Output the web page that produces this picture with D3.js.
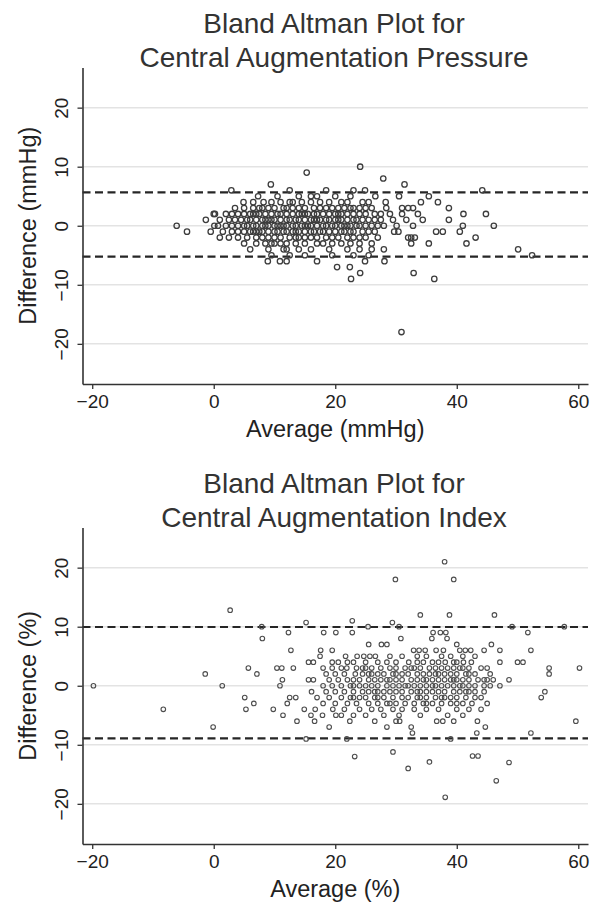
<!DOCTYPE html>
<html>
<head>
<meta charset="utf-8">
<script src="https://cdn.jsdelivr.net/npm/d3@7"></script>
<style>
body { margin: 0; background: #fff; }
svg { display: block; }
</style>
</head>
<body>
<div id="chart"></div>
<script>
// axis ticks shared by both panels
const xTicks = [-20, 0, 20, 40, 60];
const yTicks = [-20, -10, 0, 10, 20];

const titles = [
  ["Bland Altman Plot for", "Central Augmentation Pressure"],
  ["Bland Altman Plot for", "Central Augmentation Index"]
];
const xLabels = ["Average (mmHg)", "Average (%)"];
const yLabels = ["Difference (mmHg)", "Difference (%)"];

// limits of agreement (dashed lines)
const capLimits = [5.65, -5.24];
const caiLimits = [9.95, -8.9];

// central augmentation pressure: [difference, [averages...]]
const capRows = [
  [10, [24.1]],
  [9, [15.3]],
  [8, [27.9]],
  [7, [9.4, 31.4]],
  [6, [2.9, 12.5, 18.5, 23.0, 24.9, 44.2]],
  [5, [7.3, 10.5, 14, 16, 17, 20, 22.5, 26.6, 30.5, 35.4]],
  [4, [4.9, 6.5, 8.2, 9.5, 11, 12.5, 13, 14.5, 16, 17.5, 19, 21, 22, 24.5, 25.5, 28.3, 34.1, 36.9]],
  [3, [3.5, 5, 6.5, 7.5, 8, 9, 10, 11.5, 12, 13, 14, 15, 16.5, 17.5, 18.5, 19.5, 20.5, 21.5, 22.5, 23, 24, 25, 26, 28.4, 31, 32, 32.8, 38.7]],
  [2, [0, 0.2, 2, 3, 4, 5, 6, 6.5, 7, 7.5, 8.5, 9.5, 10.5, 11, 12, 13, 14, 14.5, 15, 15.5, 16.5, 17, 18, 19, 20, 20.5, 21, 22, 23, 24, 25, 26.5, 27.5, 29, 31, 33.6, 41.1, 44.8]],
  [1, [-1.3, 1, 2.5, 3.5, 4.5, 5.5, 6, 7, 8, 8.5, 9, 9.5, 10, 11, 12, 12.5, 13.5, 14, 15, 16, 16.5, 17, 17.5, 18.5, 19, 20, 20.5, 21, 22, 23, 23.5, 24.5, 25.5, 26.5, 27.5, 29.5, 31.7, 34.4, 38.7]],
  [0, [-6.1, 0.1, 0.7, 2, 3, 4, 5, 5.5, 6.5, 7, 8, 8.5, 9, 10, 10.5, 11, 11.5, 12, 13, 13.5, 14.5, 15, 15.5, 16, 17, 18, 18.5, 19.5, 20, 21, 21.5, 22, 22.5, 23.5, 24, 25, 26, 27, 28, 30.1, 32.8, 41, 46.1]],
  [-1, [-4.4, -0.5, 1.5, 3, 4, 5, 6, 6.5, 7, 7.5, 8, 9, 10, 10.5, 11.5, 12, 13, 13.5, 14, 15, 16, 16.5, 17.5, 18, 19, 20, 21, 21.5, 22.5, 23, 24.5, 25.5, 26.5, 29.7, 30.4, 36.6, 37.7, 40.5]],
  [-2, [1, 2.5, 4, 5.5, 7, 8, 9, 10, 11, 12.5, 13.5, 14, 15, 16, 17, 18.5, 19.5, 20.5, 22, 23, 24, 25, 27, 32, 32.5, 33.1, 43.1]],
  [-3, [5, 7, 8.5, 9.5, 10, 11, 12, 13.5, 15, 17, 18, 19.5, 21, 22.5, 24, 26, 32.5, 35.4, 41.6]],
  [-4, [6, 9, 11.5, 12, 14, 16, 19, 22, 24, 26, 28, 50.1]],
  [-5, [9.5, 12.5, 15, 19.5, 23, 25.5, 52.4]],
  [-6, [8.9, 10.9, 12, 17, 24.9, 28.1]],
  [-7, [20.3, 22.4]],
  [-8, [24.1, 32.9]],
  [-9, [22.6, 36.3]],
  [-18, [30.9]]
];

// central augmentation index: [difference, [averages...]]
const caiRows = [
  [21, [38]],
  [18, [29.9, 39.5]],
  [12.8, [2.7]],
  [12, [34, 38.8, 46.2]],
  [11, [22.8]],
  [10.7, [15.2, 29.4]],
  [10, [7.9, 25.4, 30.5, 49.1, 57.7]],
  [9, [12.3, 18.1, 20.1, 22.8, 36.1, 37.3, 38.2, 51.7]],
  [8, [8, 30.8, 35.9, 38.4]],
  [7, [25.5, 27.6, 28.5, 40, 45.7]],
  [6, [12.7, 17.6, 19.5, 32.9, 33.8, 34.8, 36.6, 37.8, 40.5, 41.4, 42.3, 44.5, 47.1, 52.2]],
  [5, [17.5, 21.7, 23.6, 24.7, 25.7, 26.6, 29, 31, 33.5, 35, 37.5, 39, 41, 43]],
  [4, [15.6, 16.4, 19.5, 20.5, 22, 23, 25, 27, 28.5, 30, 32.1, 33.5, 34.5, 36, 37, 38.1, 39.5, 40, 41.1, 42.4, 47.1, 50, 50.9]],
  [3, [5.7, 10.4, 11.2, 13.1, 18, 19.5, 21, 21.9, 23.5, 24.5, 25, 26, 27.5, 29, 30, 31.5, 32.5, 33, 34, 35.5, 36.5, 37.5, 38.5, 39.5, 40.5, 41, 42, 44, 45, 55.2, 60.2]],
  [2, [-1.4, 7.1, 18.5, 20, 21.5, 23.3, 24.5, 25.5, 26, 27, 28, 29.5, 30, 31, 32, 33.5, 34.5, 35.5, 36.5, 37, 38, 39, 40, 41.5, 42, 43, 45.5, 55.2]],
  [1, [11.3, 15.6, 16.4, 19, 20.5, 22, 23, 24, 25.5, 26.5, 27.5, 28.5, 29, 30, 31, 32.5, 33.5, 34.5, 35, 36, 37, 38, 39, 39.5, 40, 41, 42, 43.5, 44.5, 45, 46, 48.6]],
  [0, [-19.8, 1.4, 10.9, 18, 19.5, 21, 22.5, 23, 24, 25, 26, 27, 28.5, 29.5, 30.5, 31.5, 32, 33, 34, 35, 36, 36.5, 37.5, 38.5, 39.5, 40.5, 41, 42, 43, 44.5, 45.5, 47.1]],
  [-1, [16.1, 18.5, 20, 21.5, 23, 24.5, 25.5, 26.5, 27, 28, 29, 30, 31, 32.5, 33.5, 34, 35, 36, 37, 38, 39.5, 40.5, 41.5, 42, 43, 44.5, 54.5]],
  [-2, [5.1, 12.5, 13.5, 17, 19, 21, 22.5, 23, 24, 25, 26.5, 27, 28, 29.5, 31, 32, 33.5, 34, 35, 36.5, 37.5, 38, 39, 40, 41.5, 43, 44, 53.9]],
  [-3, [6.6, 12.1, 18, 20, 22, 23.5, 25.5, 27, 28.5, 29, 30, 31.5, 33, 34.5, 35, 36, 37.5, 39, 40, 41, 42.5, 45]],
  [-4, [-8.3, 5.3, 9.8, 14.9, 16.7, 19.6, 21.5, 24, 26, 27.5, 29.5, 31, 33, 35, 37, 40, 42, 44]],
  [-5, [11.4, 16, 17.9, 20.1, 21, 23, 25, 28, 30.5, 34, 38.5, 41]],
  [-6, [13.7, 16.6, 22.4, 26.5, 30, 30.6, 36.7, 37.7, 39.5, 43.4, 59.6]],
  [-7, [-0.1, 19, 28.5, 32.5, 44.7]],
  [-8, [32.7, 43.3, 52.2]],
  [-9, [15.2, 21.9, 39]],
  [-11.2, [29.5]],
  [-11.9, [42.6, 43.5]],
  [-12, [23.2]],
  [-12.9, [35.5]],
  [-13, [48.6]],
  [-14, [32]],
  [-16.1, [46.5]],
  [-18.9, [38.1]]
];

const width = 601;
const height = 902;
const plot = {left: 82.5, right: 588, top: 67.5, bottom: 384};
const panelStep = 460;
const font = "'Liberation Sans', Arial, Helvetica, sans-serif";

const svg = d3.select('#chart')
  .append('svg')
  .attr('width', width)
  .attr('height', height)
  .attr('viewBox', [0, 0, width, height]);

svg.append('rect')
  .attr('width', width)
  .attr('height', height)
  .attr('fill', 'white');

function toPoints(rows) {
  const pts = [];
  rows.forEach(r => r[1].forEach(a => pts.push({avg: a, diff: r[0]})));
  return pts;
}

function drawPanel(i, rows, limits, r, sw, col) {
  const oy = i * panelStep;
  const g = svg.append('g');

  const x = d3.scaleLinear()
    .domain([-21.6, 61.6])
    .range([plot.left, plot.right]);

  const y = d3.scaleLinear()
    .domain([-26.8, 26.8])
    .range([plot.bottom + oy, plot.top + oy]);

  // grid lines
  g.append('g')
    .selectAll('line')
    .data(yTicks)
    .join('line')
    .attr('x1', plot.left)
    .attr('x2', plot.right)
    .attr('y1', d => y(d))
    .attr('y2', d => y(d))
    .attr('stroke', '#e3e3e3')
    .attr('stroke-width', 1.5);

  // limits of agreement
  g.append('g')
    .selectAll('line')
    .data(limits)
    .join('line')
    .attr('x1', plot.left)
    .attr('x2', plot.right)
    .attr('y1', d => y(d))
    .attr('y2', d => y(d))
    .attr('stroke', '#262626')
    .attr('stroke-width', 2.2)
    .attr('stroke-dasharray', '8,4.5');

  // points
  g.append('g')
    .selectAll('circle')
    .data(toPoints(rows))
    .join('circle')
    .attr('cx', d => x(d.avg))
    .attr('cy', d => y(d.diff))
    .attr('r', r)
    .attr('fill', 'none')
    .attr('stroke', col)
    .attr('stroke-width', sw);

  // x axis
  const xa = g.append('g')
    .attr('transform', `translate(0,${plot.bottom + oy})`)
    .call(d3.axisBottom(x).tickValues(xTicks).tickSize(5).tickSizeOuter(0).tickPadding(6));

  // y axis
  const ya = g.append('g')
    .attr('transform', `translate(${plot.left},0)`)
    .call(d3.axisLeft(y).tickValues(yTicks).tickSize(5).tickSizeOuter(0));

  ya.selectAll('.tick text')
    .attr('transform', 'rotate(-90)')
    .attr('x', 0)
    .attr('y', -14.5)
    .attr('dy', 0)
    .attr('text-anchor', 'middle');

  [xa, ya].forEach(a => {
    a.select('.domain').attr('stroke', '#333').attr('stroke-width', 1.6);
    a.selectAll('.tick line').attr('stroke', '#333').attr('stroke-width', 1.3);
    a.selectAll('.tick text')
      .attr('font-family', font)
      .attr('font-size', 19)
      .attr('fill', '#222');
  });

  // axis titles
  g.append('text')
    .attr('x', (plot.left + plot.right) / 2)
    .attr('y', oy + 437)
    .attr('text-anchor', 'middle')
    .attr('font-family', font)
    .attr('font-size', 23.5)
    .attr('fill', '#222')
    .text(xLabels[i]);

  g.append('text')
    .attr('transform', `translate(35.5,${(plot.top + plot.bottom) / 2 + oy}) rotate(-90)`)
    .attr('text-anchor', 'middle')
    .attr('font-family', font)
    .attr('font-size', 23.5)
    .attr('fill', '#222')
    .text(yLabels[i]);

  // chart title
  g.append('g')
    .selectAll('text')
    .data(titles[i])
    .join('text')
    .attr('x', 334)
    .attr('y', (d, k) => oy + 33 + k * 34)
    .attr('text-anchor', 'middle')
    .attr('font-family', font)
    .attr('font-size', 28)
    .attr('fill', '#333')
    .text(d => d);
}

drawPanel(0, capRows, capLimits, 2.7, 1.3, '#3d3d3d');
drawPanel(1, caiRows, caiLimits, 2.3, 1.1, '#4d4d4d');
</script>
</body>
</html>
